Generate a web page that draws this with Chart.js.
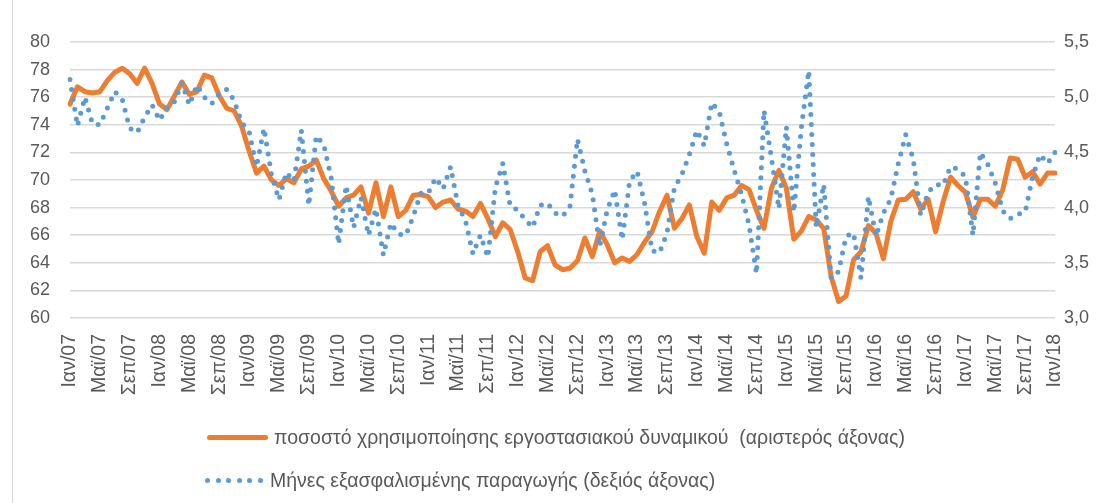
<!DOCTYPE html>
<html>
<head>
<meta charset="utf-8">
<script src="https://cdn.jsdelivr.net/npm/chart.js@4.4.1/dist/chart.umd.min.js"></script>
<style>
  html, body { margin: 0; padding: 0; background: #fff; }
  #wrap { position: relative; width: 1102px; height: 503px; overflow: hidden; }
  #edge { position: absolute; left: 12px; top: 0; width: 1px; height: 503px; background: #d9d9d9; }
  .leg { position: absolute; font-family: 'Liberation Sans', Arial, sans-serif; font-size: 19.5px; color: #595959; white-space: pre; line-height: 22px; }
  .sw-line { position: absolute; left: 207px; width: 61px; height: 5px; border-radius: 3px; background: #ED7D31; }
  .sw-dot { position: absolute; width: 5px; height: 5px; border-radius: 50%; background: #5B9BD5; }
</style>
</head>
<body>
<div id="wrap">
  <canvas id="myChart" width="1102" height="503"></canvas>
  <div id="edge"></div>
  <div class="sw-line" style="top:435px"></div>
  <div class="leg" style="left:274px; top:426px">ποσοστό χρησιμοποίησης εργοστασιακού δυναμικού  (αριστερός άξονας)</div>
  <div id="dots"></div>
  <div class="leg" style="left:270px; top:469px">Μήνες εξασφαλισμένης παραγωγής (δεξιός άξονας)</div>
</div>
<script>
// month names and years used for the category axis
const monthNames = ['Ιαν','Φεβ','Μαρ','Απρ','Μαϊ','Ιουν','Ιουλ','Αυγ','Σεπ','Οκτ','Νοε','Δεκ'];
const years = ['07','08','09','10','11','12','13','14','15','16','17','18'];

// capacity utilisation, % (left axis), Jan 2007 - Jan 2018
const utilisation = [
  75.5, 76.75, 76.4, 76.3, 76.4, 77.2, 77.8, 78.1, 77.7, 77.0, 78.1, 77.0,
  75.5, 75.1, 76.1, 77.1, 76.2, 76.4, 77.6, 77.4, 76.1, 75.2, 75.0, 73.9,
  72.1, 70.5, 71.0, 70.0, 69.6, 70.1, 69.8, 70.8, 71.0, 71.45, 70.1, 69.2,
  68.1, 68.7, 68.9, 69.5, 67.6, 69.8, 67.35, 69.5, 67.35, 67.8, 68.9, 68.95,
  68.8, 68.0, 68.4, 68.55, 67.9, 67.75, 67.35, 68.3, 67.2, 65.9, 66.9, 66.4,
  64.8, 62.9, 62.7, 64.8, 65.25, 63.85, 63.5, 63.6, 64.15, 65.8, 64.45, 66.3,
  65.3, 64.0, 64.35, 64.1, 64.6, 65.5, 66.25, 67.7, 68.9, 66.5, 67.2, 68.2,
  65.9, 64.7, 68.4, 67.8, 68.7, 68.9, 69.6, 69.3, 67.8, 66.5, 69.4, 70.7,
  69.4, 65.7, 66.3, 67.35, 67.1, 66.5, 63.0, 61.2, 61.6, 64.2, 64.8, 66.7,
  66.15, 64.3, 67.0, 68.55, 68.6, 69.15, 67.9, 68.6, 66.25, 68.4, 70.2, 69.6,
  69.1, 67.3, 68.6, 68.6, 68.1, 69.3, 71.6, 71.5, 70.2, 70.6, 69.7, 70.5,
  70.5
];

// months of secured production (right axis)
const monthsSecured = [
  5.16, 4.74, 5.00, 4.76, 4.75, 4.90, 5.05, 4.98, 4.72, 4.68, 4.82, 4.93,
  4.79, 4.91, 4.96, 5.13, 4.93, 5.11, 5.00, 4.94, 5.03, 5.07, 4.97, 4.77,
  4.69, 4.37, 4.72, 4.30, 4.07, 4.32, 4.24, 4.70, 4.02, 4.65, 4.57, 4.27,
  3.67, 4.20, 3.82, 4.09, 3.75, 3.99, 3.57, 3.86, 3.76, 3.75, 3.92, 4.13,
  4.13, 4.27, 4.17, 4.37, 4.02, 3.88, 3.58, 3.75, 3.55, 4.18, 4.40, 4.01,
  3.98, 3.89, 3.82, 4.02, 4.04, 3.95, 3.92, 4.01, 4.62, 4.33, 4.12, 3.65,
  3.98, 4.16, 3.71, 4.24, 4.33, 4.04, 3.61, 3.59, 3.77, 4.18, 4.30, 4.48,
  4.70, 4.56, 4.95, 4.87, 4.58, 4.34, 4.12, 3.84, 3.40, 4.88, 4.45, 3.99,
  4.73, 3.96, 4.72, 5.24, 3.82, 4.21, 3.36, 3.42, 3.74, 3.77, 3.36, 4.10,
  3.74, 3.95, 4.08, 4.40, 4.66, 4.44, 3.93, 4.14, 4.21, 4.20, 4.37, 4.35,
  4.28, 3.75, 4.50, 4.39, 4.22, 3.97, 3.90, 3.94, 3.96, 4.28, 4.48, 4.40,
  4.50
];

let categories = [];
for (let y=0; y<years.length; y++){
  for (let m=0; m<12; m++){
    categories.push(monthNames[m] + '/' + years[y]);
  }
}
categories = categories.slice(0, utilisation.length);

// legend dots
let dotsHtml = '';
for (let i=0; i<6; i++){
  dotsHtml += '<div class="sw-dot" style="left:' + (205 + i*10.5) + 'px; top:478px"></div>';
}
document.getElementById('dots').innerHTML = dotsHtml;

Chart.defaults.font.family = "'Liberation Sans', Arial, sans-serif";
Chart.defaults.font.size = 18;
Chart.defaults.color = '#595959';

new Chart(document.getElementById('myChart'), {
  type: 'line',
  data: {
    labels: categories,
    datasets: [{
      label: 'ποσοστό χρησιμοποίησης εργοστασιακού δυναμικού  (αριστερός άξονας)',
      data: utilisation,
      yAxisID: 'yLeft',
      borderColor: '#ED7D31',
      borderWidth: 5,
      borderJoinStyle: 'round',
      borderCapStyle: 'round',
      pointRadius: 0,
      tension: 0,
      order: 1
    }, {
      label: 'Μήνες εξασφαλισμένης παραγωγής (δεξιός άξονας)',
      data: monthsSecured,
      yAxisID: 'yRight',
      borderColor: '#5B9BD5',
      borderWidth: 5,
      borderDash: [0, 10],
      borderCapStyle: 'round',
      pointRadius: 0,
      tension: 0,
      order: 0
    }]
  },
  options: {
    responsive: false,
    animation: false,
    layout: { padding: { top: 42, left: 0, right: 0, bottom: 0 } },
    plugins: {
      legend: { display: false },
      tooltip: { enabled: false }
    },
    scales: {
      x: {
        offset: false,
        grid: { display: false },
        border: { display: false },
        ticks: {
          autoSkip: false,
          minRotation: 90,
          maxRotation: 90,
          padding: 8,
          font: { size: 19.5 },
          callback: function(value, index){
            return index % 4 === 0 ? this.getLabelForValue(value) : '';
          }
        },
        afterFit: function(scale){ scale.height = 503 - 318; }
      },
      yLeft: {
        position: 'left',
        min: 60,
        max: 80,
        ticks: { stepSize: 2, padding: 20 },
        grid: { color: '#d9d9d9', lineWidth: 1.5, drawTicks: false },
        border: { display: false },
        afterFit: function(scale){ scale.width = 70; }
      },
      yRight: {
        position: 'right',
        min: 3,
        max: 5.5,
        ticks: {
          stepSize: 0.5,
          padding: 9,
          callback: function(v){ return v.toFixed(1).replace('.', ','); }
        },
        grid: { drawOnChartArea: false, drawTicks: false },
        border: { display: false },
        afterFit: function(scale){ scale.width = 47; }
      }
    }
  }
});
</script>
</body>
</html>
